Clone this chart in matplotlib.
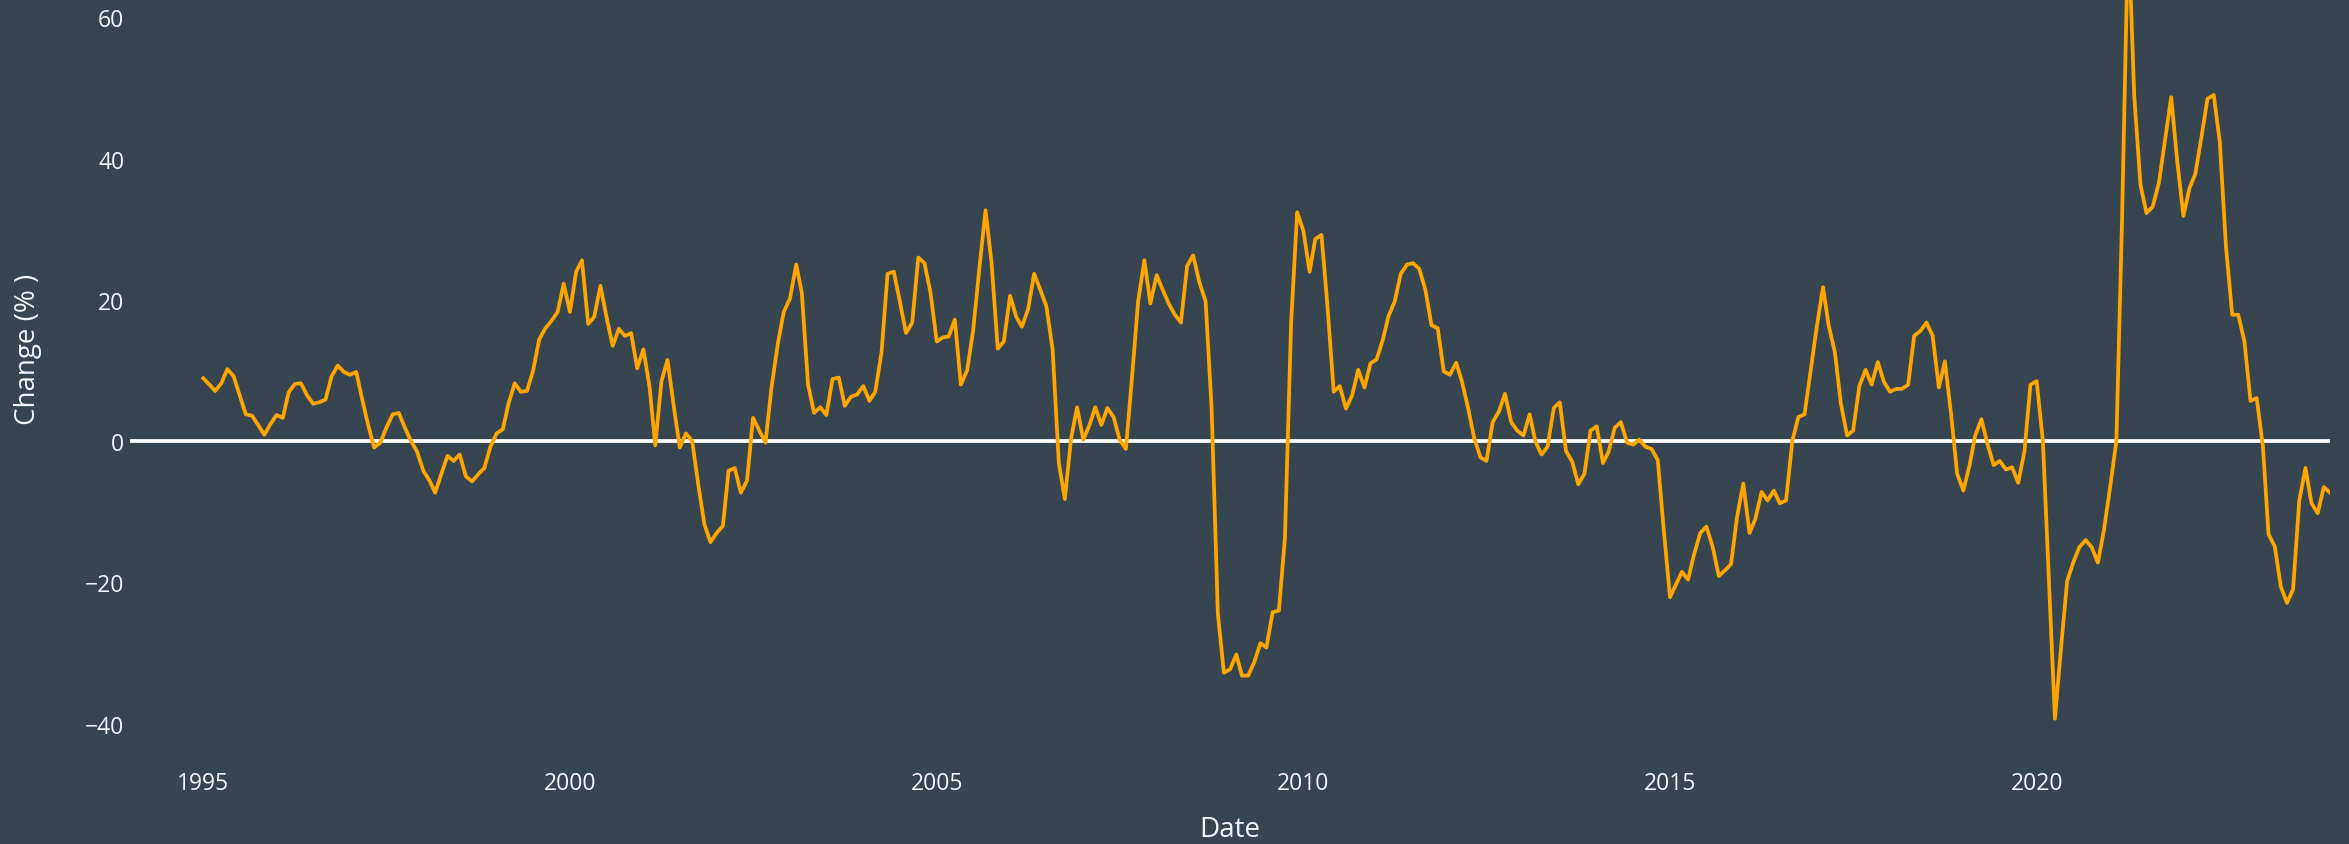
import numpy as np
import pandas as pd
import matplotlib
matplotlib.use("Agg")
import matplotlib.pyplot as plt
import matplotlib.dates as mdates

# 12-month change, monthly from Jan 1995
change_pct = [
    8.9, 8.0, 7.1, 8.2, 10.2, 9.2, 6.5, 3.8, 3.6, 2.3, 0.9, 2.4,          # 1995
    3.7, 3.3, 6.9, 8.1, 8.2, 6.5, 5.3, 5.5, 5.9, 9.2, 10.7, 9.8,          # 1996
    9.4, 9.8, 6.1, 2.3, -0.9, -0.2, 1.9, 3.8, 4.0, 1.9, 0.0, -1.5,        # 1997
    -4.2, -5.6, -7.3, -4.6, -2.1, -2.8, -1.9, -5.0, -5.7, -4.7, -3.8, -0.8,  # 1998
    1.1, 1.7, 5.3, 8.2, 7.0, 7.1, 9.9, 14.4, 16.0, 17.0, 18.3, 22.3,      # 1999
    18.3, 24.0, 25.6, 16.6, 17.6, 22.0, 17.6, 13.5, 15.9, 14.9, 15.3, 10.3,  # 2000
    13.0, 7.6, -0.6, 8.5, 11.5, 5.0, -0.9, 1.1, 0.0, -6.1, -11.8, -14.3,  # 2001
    -13.0, -12.0, -4.2, -3.8, -7.3, -5.6, 3.3, 1.5, -0.2, 7.6, 13.7, 18.3,  # 2002
    20.2, 25.0, 21.0, 8.0, 4.0, 4.8, 3.7, 8.8, 9.0, 5.0, 6.3, 6.6,        # 2003
    7.8, 5.7, 7.0, 12.6, 23.7, 24.0, 19.8, 15.3, 16.8, 26.0, 25.2, 21.0,  # 2004
    14.1, 14.7, 14.8, 17.2, 8.0, 10.0, 15.6, 24.4, 32.7, 25.2, 13.1, 14.1,  # 2005
    20.6, 17.6, 16.2, 18.7, 23.7, 21.4, 19.1, 13.0, -3.1, -8.2, 0.4, 4.8,  # 2006
    0.2, 2.3, 4.8, 2.3, 4.7, 3.4, 0.2, -1.1, 9.2, 19.8, 25.6, 19.5,       # 2007
    23.5, 21.4, 19.5, 17.9, 16.8, 24.8, 26.3, 22.5, 19.8, 4.6, -24.4, -32.8,  # 2008
    -32.3, -30.2, -33.2, -33.2, -31.3, -28.6, -29.2, -24.2, -24.0, -13.7, 16.8, 32.4,  # 2009
    29.8, 24.0, 28.6, 29.2, 19.1, 7.0, 7.8, 4.6, 6.5, 10.1, 7.6, 11.0,    # 2010
    11.6, 14.4, 17.7, 19.8, 23.7, 25.0, 25.2, 24.4, 21.4, 16.4, 16.0, 9.9,  # 2011
    9.4, 11.1, 8.4, 4.6, 0.4, -2.3, -2.8, 2.7, 4.2, 6.7, 2.7, 1.5,        # 2012
    0.8, 3.8, 0.0, -1.9, -0.8, 4.7, 5.5, -1.4, -2.9, -6.1, -4.6, 1.5,     # 2013
    2.1, -3.1, -1.5, 1.9, 2.7, -0.2, -0.5, 0.2, -0.8, -1.1, -2.7, -12.6,  # 2014
    -22.1, -20.2, -18.5, -19.6, -16.0, -13.0, -12.1, -14.9, -19.1, -18.3, -17.4, -10.7,  # 2015
    -6.0, -13.0, -11.0, -7.2, -8.4, -7.0, -8.8, -8.4, 0.0, 3.4, 3.8, 9.9,  # 2016
    16.2, 21.8, 16.4, 12.6, 5.3, 0.8, 1.5, 7.8, 10.1, 8.0, 11.2, 8.4,     # 2017
    7.0, 7.4, 7.4, 8.0, 14.9, 15.6, 16.8, 14.9, 7.6, 11.3, 3.8, -4.6,     # 2018
    -7.0, -3.4, 0.8, 3.1, -0.4, -3.4, -2.8, -4.0, -3.7, -5.9, -1.5, 8.0,  # 2019
    8.5, 0.0, -19.1, -39.3, -29.4, -19.8, -17.2, -15.0, -14.0, -15.0, -17.2, -12.6,  # 2020
    -6.5, 0.0, 31.0, 73.0, 48.9, 36.3, 32.3, 33.2, 36.6, 42.6, 48.7, 39.7,  # 2021
    31.9, 35.9, 37.8, 43.1, 48.5, 49.0, 42.4, 27.5, 17.9, 17.9, 14.1, 5.7,  # 2022
    6.1, -0.8, -13.2, -14.9, -20.6, -22.9, -21.0, -8.4, -3.8, -8.8, -10.2, -6.5,  # 2023
    -7.3,                                                                  # 2024
]
dates = pd.date_range("1995-01-01", periods=len(change_pct), freq="MS")

x_start = pd.Timestamp("1994-01-01")
x_end = pd.Timestamp("2024-01-01")
tick_years = [1995, 2000, 2005, 2010, 2015, 2020]

bg = "#36454F"
fg = "#f2f5fa"

plt.rcParams["font.family"] = ["Open Sans", "DejaVu Sans"]

fig = plt.figure(figsize=(23.49, 8.45), dpi=100, facecolor=bg)
ax = fig.add_axes([130 / 2349, 85 / 845, 2200 / 2349, 760 / 845])
ax.set_facecolor(bg)

ax.axhline(0, color="white", lw=2.7, zorder=2)
ax.plot(dates, change_pct, color="orange", lw=2.7, zorder=3)

ax.set_xlim(x_start, x_end)
ax.set_ylim(-45.0, 62.6)

ax.set_xticks([pd.Timestamp(f"{y}-01-01") for y in tick_years])
ax.xaxis.set_major_formatter(mdates.DateFormatter("%Y"))
ax.set_yticks([-40, -20, 0, 20, 40, 60])
ax.set_yticklabels(["\u221240", "\u221220", "0", "20", "40", "60"])

ax.tick_params(axis="both", length=0, colors=fg, labelsize=16.5)
ax.tick_params(axis="x", pad=9)
ax.tick_params(axis="y", pad=4)
for s in ax.spines.values():
    s.set_visible(False)

ax.set_xlabel("Date", color=fg, fontsize=20)
ax.xaxis.set_label_coords(0.5, -70 / 760, transform=ax.transAxes)
ax.xaxis.label.set_va("center")
ax.set_ylabel("Change (% )", color=fg, fontsize=20)
ax.yaxis.set_label_coords(-102 / 2200, 1 - 349 / 760, transform=ax.transAxes)
ax.yaxis.label.set_va("center")

fig.savefig("out.png", dpi=100, facecolor=bg)
